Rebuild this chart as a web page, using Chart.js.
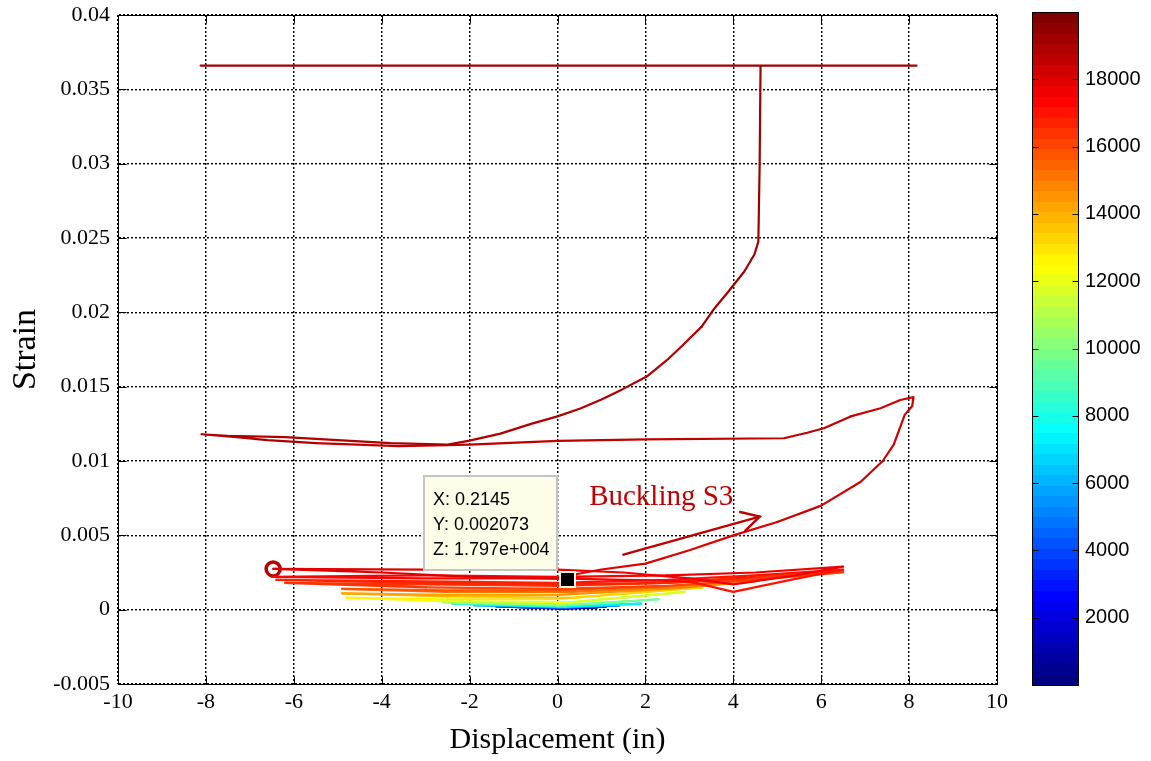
<!DOCTYPE html>
<html><head><meta charset="utf-8">
<script src="https://cdn.jsdelivr.net/npm/chart.js@4.4.0/dist/chart.umd.min.js"></script>
<style>
html,body{margin:0;padding:0;background:#fff;}
#wrap{position:relative;width:1151px;height:761px;overflow:hidden;background:#fff;}
#main{position:absolute;left:0;top:0;}
#cb{position:absolute;left:1000px;top:0;}
</style></head><body>
<div id="wrap">
<canvas id="main" width="1151" height="761"></canvas>
<canvas id="cb" width="151" height="761"></canvas>
</div>
<script>
// ---------------- DATA ----------------
// Pre-buckling cycles (growing amplitude)
const cycX = [0.0,0.9,0.1,-1.0,0.0, 1.1,0.1,-1.4,0.0, 1.4,0.2,-1.9,0.0, 1.9,0.2,-2.4,0.0, 2.3,0.2,-2.6,0.0,
  2.9,0.3,-2.8,-4.8,-2.5,0.0, 3.3,0.3,-2.5,-4.9,-2.5,0.0, 2.5,4.5,2.5,0.3,-2.5,-4.9,-2.5,0.0,
  2.5,4.5,6.5,4.5,2.5,0.0,-3.0,-6.2,-3.0,0.0,
  2.5,4.5,6.5,4.5,2.5,0.0,-3.0,-6.4,-3.0,0.0,
  2.5,4.5,6.5,5.3,4.0,3.0,0.0,-3.0,-6.5,-3.0,0.0,
  2.5,4.5,6.5,5.4,4.0,3.0,1.5,0.0,-3.0,-6.47,-4.0,-2.0,0.2145];
const cycY = [0.00005,0.00015,0.00008,0.00018,0.00008, 0.0002,0.0001,0.00022,0.00012, 0.00028,0.00015,0.0003,0.00018,
  0.0004,0.0002,0.0004,0.00025, 0.0007,0.0003,0.0005,0.0004, 0.0012,0.0005,0.0006,0.0008,0.0007,0.0007,
  0.0015,0.0008,0.0009,0.0011,0.0010,0.0010, 0.0014,0.0019,0.0015,0.0012,0.0012,0.0014,0.0013,0.0013,
  0.0016,0.0020,0.0025,0.0020,0.0016,0.0014,0.0015,0.0018,0.0017,0.0016,
  0.0018,0.0021,0.0026,0.0022,0.0018,0.0017,0.0018,0.0020,0.0019,0.0018,
  0.0020,0.0023,0.0027,0.0020,0.0012,0.0019,0.0021,0.0021,0.0022,0.0023,0.0022,
  0.0023,0.0025,0.0029,0.0023,0.0017,0.0021,0.0025,0.0027,0.0027,0.00274,0.0025,0.0022,0.002073];
const cycZ = [0,500,1000,1500,2000, 2600,3200,3800,4400, 5000,5600,6200,6800, 7400,8000,8600,9200, 9800,10400,10900,11300,
  11700,12100,12400,12700,12900,13100, 13400,13700,13900,14100,14300,14500, 14700,14900,15100,15300,15500,15700,15800,15900,
  15950,16000,16050,16100,16150,16200,16250,16300,16350,16400,
  16450,16500,16550,16600,16650,16700,16750,16800,16850,16900,
  16950,17000,17050,17100,17150,17200,17250,17300,17350,17400,17450,
  17530,17600,17660,17700,17740,17780,17810,17840,17880,17920,17940,17955,17970];
// Buckling branch
const bkX = [0.45,1.0,2.0,3.0,4.0,5.0,6.0,6.9,7.4,7.65,7.9,8.07,8.1];
const bkY = [0.0024,0.0027,0.0031,0.0040,0.0050,0.0059,0.0070,0.0086,0.0100,0.0111,0.0131,0.0137,0.0143];
const bkZ = [17985,18000,18040,18080,18120,18160,18200,18240,18280,18300,18330,18350,18370];
// Return along plateau
const plX = [7.8,7.35,6.67,6.06,5.68,5.15,2.0,0.0,-2.0,-3.6,-5.5,-6.6,-7.3,-8.1];
const plY = [0.0141,0.01355,0.0130,0.0122,0.0119,0.01153,0.01145,0.01135,0.0111,0.0110,0.0112,0.0114,0.0116,0.0118];
const plZ = [18400,18430,18460,18490,18510,18530,18600,18650,18700,18740,18780,18810,18830,18850];
// Rising branch to gauge saturation
const rsX = [-7.5,-6.2,-5.0,-3.8,-2.5,-2.0,-1.3,-0.6,0.0,0.52,1.0,1.46,2.03,2.53,2.82,3.28,3.57,3.89,4.25,4.48,4.57,4.6,4.62];
const rsY = [0.0117,0.0116,0.0114,0.0112,0.0111,0.01137,0.01184,0.0125,0.0130,0.01353,0.01413,0.0148,0.01568,0.01689,0.0177,
  0.01904,0.02026,0.0214,0.02275,0.02389,0.02476,0.0300,0.0366];
const rsZ = [18870,18890,18910,18930,18950,18960,18970,18990,19000,19010,19020,19030,19040,19050,19060,19070,19080,19090,19100,19110,19120,19150,19180];
// Saturated top line
const tpX = [8.17,-8.12];
const tpY = [0.0366,0.0366];
const tpZ = [19250,19380];

const xTicks = [-10,-8,-6,-4,-2,0,2,4,6,8,10];
const yTicks = [-0.005,0,0.005,0.01,0.015,0.02,0.025,0.03,0.035,0.04];
const yTickLabels = ['-0.005','0','0.005','0.01','0.015','0.02','0.025','0.03','0.035','0.04'];
const cbTicks = [2000,4000,6000,8000,10000,12000,14000,16000,18000];
const zRange = [0, 20000];
const circlePt = [-6.47, 0.00274];
const tipPt = [0.2145, 0.002073, 17970];
const arrowFrom = [1.5, 0.0037];
const arrowTo = [4.6, 0.00626];
const noteText = 'Buckling S3';
const notePos = [0.72, 0.00705];

// --------------- COLOR MAP (jet, 64 levels) ---------------
function jetRGB(t){
  const c = v => Math.max(0, Math.min(1, v));
  return [c(Math.min(4*t-1.5, -4*t+4.5)), c(Math.min(4*t-0.5, -4*t+3.5)), c(Math.min(4*t+0.5, -4*t+2.5))];
}
function colorIdx(i){ const [r,g,b]=jetRGB(i/63); return `rgb(${Math.round(r*255)},${Math.round(g*255)},${Math.round(b*255)})`; }
function zColor(z){ const i=Math.max(0,Math.min(63,Math.floor((z-zRange[0])/(zRange[1]-zRange[0])*64))); return colorIdx(i); }

const pathX = [...cycX, ...bkX, ...plX, ...rsX, ...tpX];
const pathY = [...cycY, ...bkY, ...plY, ...rsY, ...tpY];
const pathZ = [...cycZ, ...bkZ, ...plZ, ...rsZ, ...tpZ];
const pathData = pathX.map((x,i)=>({x:x, y:pathY[i]}));

Chart.defaults.font.family = "'Liberation Serif', 'Times New Roman', serif";
Chart.defaults.color = '#000';

const SERIF = "'Liberation Serif', 'Times New Roman', serif";
const SANS = "'Liberation Sans', Arial, sans-serif";

const mainDecor = {
  id:'mainDecor',
  afterDatasetsDraw(chart){
    const {ctx, chartArea:a, scales:{x, y}} = chart;
    ctx.save();
    ctx.setLineDash([]);
    ctx.strokeStyle = '#000'; ctx.lineWidth = 1;
    const L = Math.round(a.left)+0.5, R = Math.round(a.right)+0.5, T = Math.round(a.top)+0.5, B = Math.round(a.bottom)+0.5;
    ctx.strokeRect(L, T, R-L, B-T);
    const tl = 8;
    ctx.beginPath();
    xTicks.forEach(v=>{ const p=Math.round(x.getPixelForValue(v))+0.5; ctx.moveTo(p,B); ctx.lineTo(p,B-tl); ctx.moveTo(p,T); ctx.lineTo(p,T+tl); });
    yTicks.forEach(v=>{ const p=Math.round(y.getPixelForValue(v))+0.5; ctx.moveTo(L,p); ctx.lineTo(L+tl,p); ctx.moveTo(R,p); ctx.lineTo(R-tl,p); });
    ctx.stroke();

    // arrow annotation
    const ax0 = x.getPixelForValue(arrowFrom[0]), ay0 = y.getPixelForValue(arrowFrom[1]);
    const ax1 = x.getPixelForValue(arrowTo[0]), ay1 = y.getPixelForValue(arrowTo[1]);
    ctx.strokeStyle = '#c00000'; ctx.lineWidth = 2.5; ctx.lineCap='round';
    ctx.beginPath(); ctx.moveTo(ax0, ay0); ctx.lineTo(ax1, ay1); ctx.stroke();
    const ang = Math.atan2(ay0-ay1, ax0-ax1), hl = 20, ha = 0.5;
    ctx.beginPath();
    ctx.moveTo(ax1 + hl*Math.cos(ang+ha), ay1 + hl*Math.sin(ang+ha)); ctx.lineTo(ax1, ay1);
    ctx.lineTo(ax1 + hl*Math.cos(ang-ha), ay1 + hl*Math.sin(ang-ha));
    ctx.stroke();
    ctx.fillStyle = '#c00000'; ctx.font = `29px ${SERIF}`; ctx.textBaseline='alphabetic'; ctx.textAlign='left';
    ctx.fillText(noteText, x.getPixelForValue(notePos[0]), y.getPixelForValue(notePos[1]));

    // data tip
    const mx = x.getPixelForValue(tipPt[0]), my = y.getPixelForValue(tipPt[1]);
    ctx.fillStyle = '#fffbdc'; ctx.fillRect(Math.round(mx)-8, Math.round(my)-8, 17, 17);
    ctx.fillStyle = '#000'; ctx.fillRect(Math.round(mx)-6, Math.round(my)-6, 13, 13);
    const bx = Math.round(mx)-143, by = Math.round(my)-103, bw = 133, bh = 94;
    ctx.fillStyle = '#fdfde8'; ctx.fillRect(bx, by, bw, bh);
    ctx.strokeStyle = '#c4c4c4'; ctx.lineWidth = 2; ctx.strokeRect(bx, by, bw, bh);
    ctx.fillStyle = '#000'; ctx.font = `18px ${SANS}`;
    const zs = tipPt[2].toExponential(3).replace(/e\+(\d+)/, (m,d)=>'e+'+d.padStart(3,'0'));
    ctx.fillText('X: ' + tipPt[0], bx+9, by+29);
    ctx.fillText('Y: ' + tipPt[1], bx+9, by+54);
    ctx.fillText('Z: ' + zs, bx+9, by+79);
    ctx.restore();
  }
};

new Chart(document.getElementById('main'), {
  type:'scatter',
  data:{ datasets:[
    { data: pathData, showLine:true, pointRadius:0, borderWidth:2.2, borderColor: zColor(0),
      borderCapStyle:'round', borderJoinStyle:'round', tension:0,
      segment:{ borderColor: ctx => zColor(pathZ[ctx.p0DataIndex]) } },
    { data:[{x:circlePt[0], y:circlePt[1]}], showLine:false, pointRadius:7, pointBorderWidth:3.5,
      pointBorderColor:'#b40000', pointBackgroundColor:'#ffffff', pointStyle:'circle' }
  ]},
  options:{
    responsive:false, animation:false, events:[],
    layout:{ padding:{ left:0, top:15, right:154, bottom:0 } },
    plugins:{ legend:{display:false}, tooltip:{enabled:false} },
    scales:{
      x:{ type:'linear', min:-10, max:10,
        afterBuildTicks: s => { s.ticks = xTicks.map(v=>({value:v})); },
        afterFit: s => { s.height = 77; s.paddingLeft = 0; s.paddingRight = 0; },
        grid:{ color:'#000', lineWidth:1.4, drawTicks:false },
        border:{ display:true, color:'#000', width:1, dash:[2,2] },
        ticks:{ font:{family:SERIF, size:22}, color:'#000', padding:5, maxRotation:0, autoSkip:false, callback: v => String(v) },
        title:{ display:true, text:'Displacement (in)', font:{family:SERIF, size:30}, color:'#000', padding:{top:0, bottom:3} }
      },
      y:{ type:'linear', min:-0.005, max:0.04,
        afterBuildTicks: s => { s.ticks = yTicks.map(v=>({value:v})); },
        afterFit: s => { s.width = 118; s.paddingTop = 0; s.paddingBottom = 0; },
        grid:{ color:'#000', lineWidth:1.4, drawTicks:false },
        border:{ display:true, color:'#000', width:1, dash:[2,2] },
        ticks:{ font:{family:SERIF, size:22}, color:'#000', padding:8, autoSkip:false, callback: (v,i) => yTickLabels[i] },
        title:{ display:true, text:'Strain', font:{family:SERIF, size:34}, color:'#000', padding:{top:6, bottom:0} }
      }
    }
  },
  plugins:[mainDecor]
});

// --------------- COLORBAR ---------------
const cbDecor = {
  id:'cbDecor',
  afterDraw(chart){
    const {ctx, chartArea:a, scales:{y}} = chart;
    ctx.save();
    for(let i=0;i<64;i++){
      const v0 = zRange[0] + (zRange[1]-zRange[0])*i/64, v1 = zRange[0] + (zRange[1]-zRange[0])*(i+1)/64;
      const p0 = y.getPixelForValue(v0), p1 = y.getPixelForValue(v1);
      ctx.fillStyle = colorIdx(i);
      ctx.fillRect(a.left, Math.floor(p1), a.right-a.left, Math.ceil(p0)-Math.floor(p1));
    }
    ctx.strokeStyle='#000'; ctx.lineWidth=1;
    const L=Math.round(a.left)+0.5, R=Math.round(a.right)+0.5, T=Math.round(a.top)+0.5, B=Math.round(a.bottom)+0.5;
    ctx.strokeRect(L,T,R-L,B-T);
    ctx.beginPath();
    cbTicks.forEach(v=>{ const p=Math.round(y.getPixelForValue(v))+0.5; ctx.moveTo(L,p); ctx.lineTo(L+6,p); ctx.moveTo(R,p); ctx.lineTo(R-6,p); });
    ctx.stroke();
    ctx.restore();
  }
};
new Chart(document.getElementById('cb'), {
  type:'scatter',
  data:{ datasets:[] },
  options:{
    responsive:false, animation:false, events:[],
    layout:{ padding:{ left:32, top:12, right:0, bottom:76 } },
    plugins:{ legend:{display:false}, tooltip:{enabled:false} },
    scales:{
      x:{ display:false, min:0, max:1 },
      y:{ position:'right', min:zRange[0], max:zRange[1],
        afterBuildTicks: s => { s.ticks = cbTicks.map(v=>({value:v})); },
        afterFit: s => { s.width = 73; s.paddingTop = 0; s.paddingBottom = 0; },
        grid:{ display:false, drawTicks:false }, border:{ display:false },
        ticks:{ font:{family:SANS, size:20}, color:'#000', padding:7, callback: v => String(v) }
      }
    }
  },
  plugins:[cbDecor]
});
</script>
</body></html>
